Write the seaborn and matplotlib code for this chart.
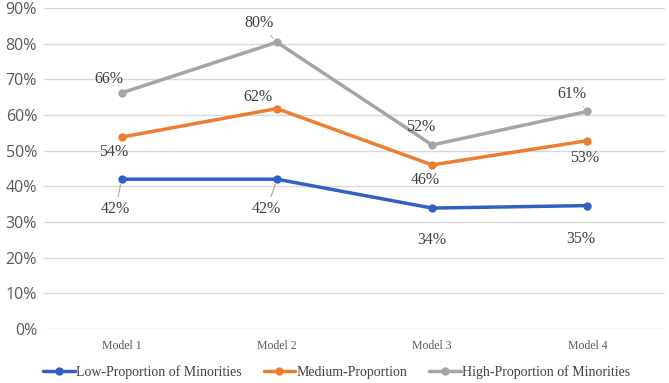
import numpy as np
import pandas as pd
import matplotlib
matplotlib.use("Agg")
import matplotlib.pyplot as plt
import seaborn as sns

models = ["Model 1", "Model 2", "Model 3", "Model 4"]
series = ["Low-Proportion of Minorities", "Medium-Proportion", "High-Proportion of Minorities"]
low = [42.0, 42.0, 33.9, 34.6]
medium = [53.8, 61.8, 46.0, 52.8]
high = [66.2, 80.4, 51.6, 61.0]
colors = ["#3060C4", "#ED7D31", "#A5A5A5"]

# label placement per point: (dx, dy) offsets in pixels, and whether a leader line is drawn
offsets = {
    series[0]: [(-6, -30), (-10, -30), (0, -32), (-7, -33)],
    series[1]: [(-8, -15), (-19, 12), (-7, -15), (-3, -17)],
    series[2]: [(-13, 14), (-18, 19), (-11, 18), (-15, 17)],
}
leaders = {
    series[0]: [True, True, False, False],
    series[1]: [False, False, False, False],
    series[2]: [False, True, False, True],
}

df = pd.DataFrame({
    "model": models * 3,
    "value": low + medium + high,
    "series": [s for s in series for _ in models],
})

sns.set_style("white")
plt.rcParams['font.family'] = ['Liberation Serif', 'DejaVu Serif']

fig = plt.figure(figsize=(6.69, 3.83), dpi=100)
ax = fig.add_axes([44 / 669, 54 / 383, 621 / 669, 321 / 383])

sns.lineplot(data=df, x="model", y="value", hue="series", hue_order=series,
             palette=colors, marker="o", markersize=6, markeredgewidth=0,
             linewidth=2.5, sort=False, ax=ax)

for s, vals in zip(series, [low, medium, high]):
    for i, v in enumerate(vals):
        dx, dy = offsets[s][i]
        arrow = None
        if leaders[s][i]:
            arrow = dict(arrowstyle="-", color="#A6A6A6", lw=0.8, shrinkA=1, shrinkB=4)
        ax.annotate(f"{round(v)}%", (i, v), xytext=(dx, dy), textcoords="offset pixels",
                    ha="center", va="center", fontsize=11.5, color="#404040",
                    arrowprops=arrow)

ax.set_ylim(0, 90)
ax.set_xlim(-0.5, 3.5)
ax.set_yticks(np.arange(0, 91, 10))
ax.set_yticklabels([f"{t}%" for t in range(0, 91, 10)], fontsize=11.5, color="#595959",
                   family=['Open Sans', 'DejaVu Sans'])
ax.tick_params(axis="x", labelsize=8.5, colors="#595959", length=0, pad=8)
ax.tick_params(axis="y", length=0, pad=5)
ax.yaxis.grid(True, color="#D9D9D9", linewidth=1)
ax.xaxis.grid(False)
for sp in ax.spines.values():
    sp.set_visible(False)
ax.set_xlabel("")
ax.set_ylabel("")

handles, labels = ax.get_legend_handles_labels()
ax.get_legend().remove()
leg = fig.legend(handles, labels, loc="center", bbox_to_anchor=(0.503, 1 - 372 / 383), ncol=3,
                 frameon=False, fontsize=10, handlelength=2.3, columnspacing=1.6,
                 handletextpad=0.05, borderaxespad=0)
for t in leg.get_texts():
    t.set_color("#404040")

fig.savefig("out.png", dpi=100)
